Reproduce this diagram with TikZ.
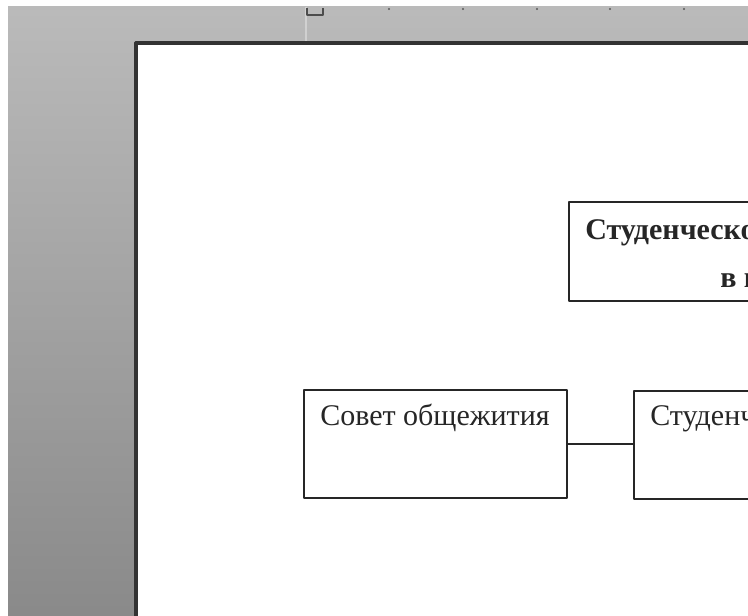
\documentclass[tikz,border=0pt]{standalone}
\usepackage{fontspec}
\setmainfont{Liberation Serif}
\usetikzlibrary{positioning,calc}
\begin{document}
\begin{tikzpicture}[x=0.75pt, y=-0.75pt, line join=round, font=\fontsize{22.5}{27}\selectfont,
		box/.style={draw, line width=1.3pt, black!85, inner sep=0pt, anchor=north west},
		txt/.style={anchor=base west, inner sep=0pt, text=black!85}]
			\def\W{748}\def\H{616}
			\useasboundingbox (0,0) rectangle (\W,\H);
			\clip (0,0) rectangle (\W,\H);
			% scanner background
			\fill[white] (0,0) rectangle (\W,\H);
			\shade[top color=black!27, bottom color=black!46] (8,7) rectangle (\W,\H);
			\draw[white, opacity=0.35, line width=1.5pt] (306,7) -- (306,43);
			\draw[black!70, line width=0.8pt] (307,8) -- (307,15) -- (323,15) -- (323,8);
			\foreach \t in {389,463,537,610,684} \fill[black!65] (\t,9) circle (1.2);
			% page
			\fill[white] (136,43) rectangle (\W+10,\H+10);
			\draw[black!80, line width=2.4pt] (136,\H+10) -- (136,43) -- (\W+10,43);
			% boxes
			\node[box, minimum width=272pt, minimum height=74.25pt] (samoupr) at (568,201) {};
			\node[txt, font=\fontsize{22.5}{27}\selectfont\bfseries] (samoupr1) at (585,240) {Студенческо};
			\node[txt, font=\fontsize{22.5}{27}\selectfont\bfseries] (samoupr2) at (720,287) {в п};
			\node[box, minimum width=197.25pt, minimum height=81pt] (sovet) at (303,389) {};
			\node[txt] (sovettxt) at (320,425) {Совет общежития};
			\node[box, minimum width=225pt, minimum height=81pt] (stud) at (633,390) {};
			\node[txt] (studtxt) at (650,425) {Студенч};
			\draw[black!85, line width=1.3pt] (sovet.east) -- (sovet.east -| stud.west);
		\end{tikzpicture}
\end{document}
